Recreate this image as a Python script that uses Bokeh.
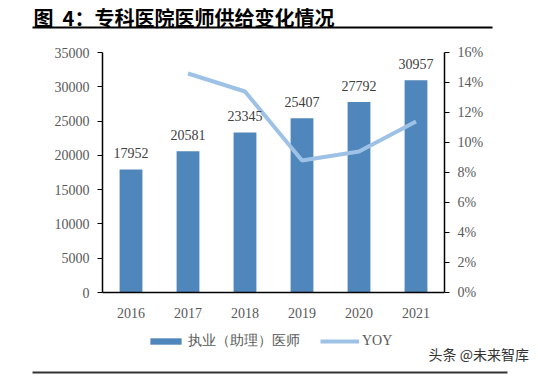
from bokeh.plotting import figure
from bokeh.models import (ColumnDataSource, Range1d, LinearAxis, CategoricalAxis, FactorRange,
                          Label, Arrow, Legend, LegendItem, NumeralTickFormatter,
                          FixedTicker, LabelSet)
from bokeh.core.properties import value
from bokeh.embed import file_html
from bokeh.resources import INLINE

# ---- data ----
years = ["2016", "2017", "2018", "2019", "2020", "2021"]
doctors = [17952, 20581, 23345, 25407, 27792, 30957]
yoy_years = ["2017", "2018", "2019", "2020", "2021"]
yoy = [0.146, 0.134, 0.088, 0.094, 0.114]
left_ticks = [0, 5000, 10000, 15000, 20000, 25000, 30000, 35000]
right_ticks = [0, 0.02, 0.04, 0.06, 0.08, 0.10, 0.12, 0.14, 0.16]
left_max = 35000
right_max = 0.16
title_text = "图\u00a0\u00a04：专科医院医师供给变化情况"
bar_name = "执业（助理）医师"
line_name = "YOY"
watermark = "头条 @未来智库"

BAR = "#4F86BB"
LINE = "#9DC2E5"
GREY = "#595959"
SERIF = "Liberation Serif"
CJK = "Noto Sans CJK SC"

# ---- layout (page pixels) ----
W, H = 538, 379
PL, PR, PT, PB = 102, 444, 52, 292   # plotting box of the chart
FX0 = 8                              # frame starts here so padding is symmetric
n = len(years)
unit = (PR - PL) / n                 # px per category
pad = (PL - FX0) / unit              # == (W - PR) / unit
ppv = (PB - PT) / left_max           # px per value (left)
ppp = (PB - PT) / right_max          # px per value (right)

p = figure(width=W, height=H,
           x_range=FactorRange(*years, range_padding=pad, range_padding_units="absolute"),
           y_range=Range1d(-(H - PB) / ppv, PB / ppv),
           output_backend="svg", toolbar_location=None, x_axis_location=None,
           y_axis_location=None,
           min_border_left=FX0, min_border_right=0, min_border_top=0, min_border_bottom=0)
p.outline_line_color = None
p.xgrid.grid_line_color = None
p.ygrid.grid_line_color = None
p.extra_y_ranges = {"pct": Range1d(-(H - PB) / ppp, PB / ppp)}

src = ColumnDataSource(dict(x=years, y=doctors, lab=[str(v) for v in doctors]))
bars = p.vbar(x="x", top="y", width=0.4, source=src, fill_color=BAR, line_color=None)
lsrc = ColumnDataSource(dict(x=yoy_years, y=yoy))
ln = p.line(x="x", y="y", source=lsrc, y_range_name="pct", line_color=LINE, line_width=4)

labels = LabelSet(x="x", y="y", text="lab", source=src, y_offset=11, text_align="center",
                  text_baseline="bottom", text_font=value(SERIF), text_font_size="14px",
                  text_color="#404040")
p.add_layout(labels)


def style_axis(ax):
    ax.major_tick_out = 5
    ax.major_tick_in = 0
    ax.minor_tick_line_color = None
    ax.axis_line_color = "black"
    ax.axis_line_width = 1.5
    ax.major_tick_line_color = "black"
    ax.major_label_text_font = SERIF
    ax.major_label_text_font_size = "14px"
    ax.major_label_text_color = GREY
    ax.major_label_standoff = 8


la = LinearAxis(ticker=FixedTicker(ticks=left_ticks), fixed_location=0,
                bounds=(0, left_max))
style_axis(la)
p.add_layout(la, "left")

ra = LinearAxis(y_range_name="pct", ticker=FixedTicker(ticks=right_ticks),
                formatter=NumeralTickFormatter(format="0%"), fixed_location=n,
                bounds=(0, right_max))
style_axis(ra)
p.add_layout(ra, "right")

xa = CategoricalAxis(fixed_location=0, bounds=(0, n))
style_axis(xa)
xa.major_tick_line_color = None
xa.major_label_standoff = 10
p.add_layout(xa, "below")

# legend
leg = Legend(items=[LegendItem(label=value(bar_name), renderers=[bars]),
                    LegendItem(label=value(line_name), renderers=[ln])],
             orientation="horizontal", location=(146 - FX0, H - 350), padding=0, margin=0,
             border_line_color=None, background_fill_alpha=0,
             glyph_width=39, glyph_height=8, label_height=14, label_standoff=3,
             spacing=20, label_text_font=SERIF, label_text_font_size="14px",
             label_text_color=GREY)
p.add_layout(leg)

# title & decorations (screen units relative to the frame's bottom-left)
p.add_layout(Label(x=33 - FX0, y=H - 2, x_units="screen", y_units="screen", text=title_text,
                   text_font=CJK, text_font_size="20px", text_font_style="bold",
                   text_baseline="top", text_color="black"))
p.add_layout(Arrow(start=None, end=None, x_start=32 - FX0, y_start=H - 27,
                   x_end=492 - FX0, y_end=H - 27, start_units="screen", end_units="screen",
                   line_color="black", line_width=2))
p.add_layout(Arrow(start=None, end=None, x_start=32 - FX0, y_start=H - 372,
                   x_end=507 - FX0, y_end=H - 372, start_units="screen", end_units="screen",
                   line_color="#333333", line_width=2))
p.add_layout(Label(x=428 - FX0, y=H - 353, x_units="screen", y_units="screen", text=watermark,
                   text_font=CJK, text_font_size="14px", text_baseline="middle",
                   text_color="#333333"))

open("out.html", "w").write(file_html(p, INLINE))
